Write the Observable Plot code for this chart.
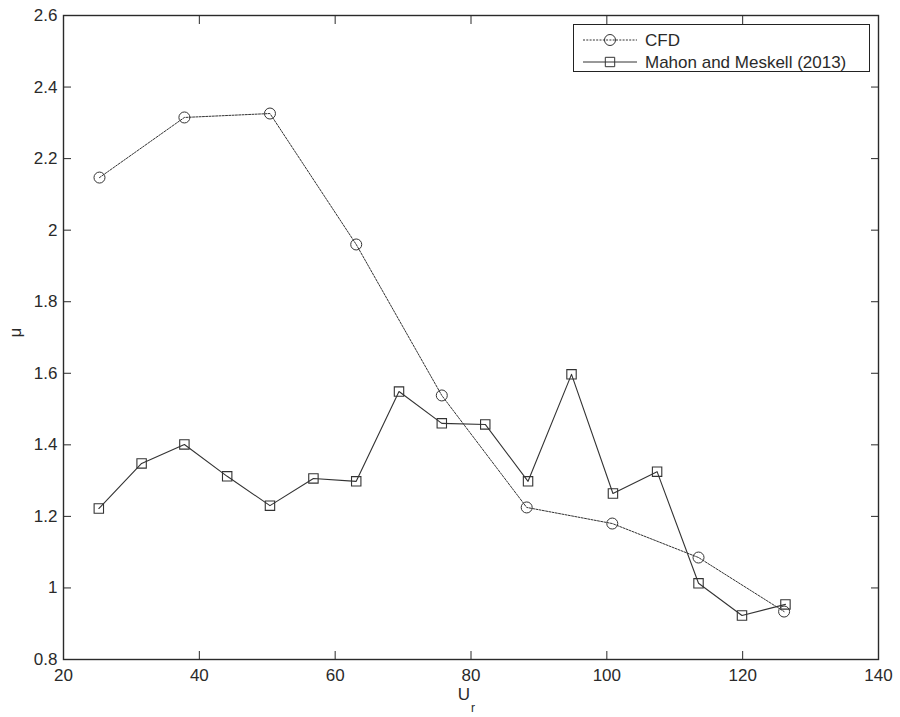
<!DOCTYPE html>
<html>
<head>
<meta charset="utf-8">
<script src="https://cdn.jsdelivr.net/npm/d3@7"></script>
<script src="https://cdn.jsdelivr.net/npm/@observablehq/plot@0.6"></script>
<style>
  body { margin: 0; background: #fff; }
  #wrap { position: relative; width: 900px; height: 717px; font-family: "Liberation Sans", Arial, sans-serif; color: #222; }
  #legend { position: absolute; left: 573px; top: 24px; width: 297px; height: 48px; border: 1px solid #222; background: #fff; box-sizing: border-box; }
  #legend svg { position: absolute; left: 0; top: 0; }
</style>
</head>
<body>
<div id="wrap"></div>
<script>
// ---- data ----
const seriesNames = ["CFD", "Mahon and Meskell (2013)"];
const urCFD = [25.3, 37.8, 50.4, 63.1, 75.7, 88.2, 100.8, 113.5, 126.1];
const muCFD = [2.147, 2.315, 2.326, 1.96, 1.538, 1.225, 1.18, 1.085, 0.934];
const urExp = [25.2, 31.5, 37.8, 44.1, 50.4, 56.8, 63.1, 69.4, 75.7, 82.1, 88.4, 94.8, 100.9, 107.4, 113.5, 119.9, 126.3];
const muExp = [1.222, 1.348, 1.401, 1.312, 1.23, 1.306, 1.298, 1.549, 1.46, 1.457, 1.298, 1.597, 1.264, 1.325, 1.013, 0.923, 0.954];
const xTicks = [20, 40, 60, 80, 100, 120, 140];
const yTicks = [0.8, 1, 1.2, 1.4, 1.6, 1.8, 2, 2.2, 2.4, 2.6];
const xLabel = "U";
const xLabelSub = "r";
const yLabel = "μ";

const cfd = urCFD.map((x, i) => ({x, y: muCFD[i], s: seriesNames[0]}));
const exp = urExp.map((x, i) => ({x, y: muExp[i], s: seriesNames[1]}));

const ink = "#2a2a2a";
const fmt = d => String(+d.toFixed(1));

const chart = Plot.plot({
  width: 900,
  height: 717,
  marginLeft: 63,
  marginRight: 22,
  marginTop: 15,
  marginBottom: 58,
  style: { fontFamily: "'Liberation Sans', Arial, sans-serif", fontSize: "17px", color: ink, background: "#fff" },
  x: { domain: [20, 140], label: null },
  y: { domain: [0.8, 2.6], label: null },
  marks: [
    Plot.axisX(xTicks, { anchor: "bottom", tickSize: -8, tickPadding: 17, tickFormat: fmt, label: null, stroke: ink }),
    Plot.axisX(xTicks, { anchor: "top", tickSize: -8, tickFormat: () => "", label: null, stroke: ink }),
    Plot.axisY(yTicks, { anchor: "left", tickSize: -8, tickPadding: 14, tickFormat: fmt, label: null, stroke: ink }),
    Plot.axisY(yTicks, { anchor: "right", tickSize: -8, tickFormat: () => "", label: null, stroke: ink }),
    Plot.frame({ stroke: ink, strokeWidth: 1.4 }),
    Plot.line(cfd, { x: "x", y: "y", stroke: "#333", strokeWidth: 1, strokeDasharray: "2,1.3" }),
    Plot.dot(cfd, { x: "x", y: "y", r: 5.5, stroke: "#333", strokeWidth: 1, fill: "none" }),
    Plot.line(exp, { x: "x", y: "y", stroke: "#333", strokeWidth: 1.1 }),
    Plot.dot(exp, { x: "x", y: "y", symbol: "square", r: 5.3, stroke: "#333", strokeWidth: 1.1, fill: "none" }),
    Plot.text([xLabel], { text: d => d, frameAnchor: "bottom", dx: -7, dy: 40, fontSize: 17, fill: ink }),
    Plot.text([xLabelSub], { text: d => d, frameAnchor: "bottom", dx: 2, dy: 52, fontSize: 12, fill: ink }),
    Plot.text([yLabel], { text: d => d, frameAnchor: "left", dx: -48, rotate: -90, fontSize: 17, fill: ink })
  ]
});

const wrap = document.getElementById("wrap");
wrap.appendChild(chart);

// ---- legend (overlay inside the plot area, top right) ----
const legend = d3.select(wrap).append("div").attr("id", "legend");
const lsvg = legend.append("svg").attr("width", 297).attr("height", 48);
const rows = [
  { name: seriesNames[0], dash: "2,1.3", symbol: d3.symbolCircle, size: Math.PI * 5.5 * 5.5, cy: 15 },
  { name: seriesNames[1], dash: null, symbol: d3.symbolSquare, size: Math.PI * 5.3 * 5.3, cy: 37 }
];
rows.forEach(r => {
  lsvg.append("line").attr("x1", 9).attr("x2", 63).attr("y1", r.cy).attr("y2", r.cy)
    .attr("stroke", "#333").attr("stroke-width", 1).attr("stroke-dasharray", r.dash);
  lsvg.append("path").attr("d", d3.symbol(r.symbol, r.size)()).attr("transform", `translate(36,${r.cy})`)
    .attr("fill", "none").attr("stroke", "#333").attr("stroke-width", 1);
  lsvg.append("text").attr("x", 71).attr("y", r.cy).attr("dy", "0.35em")
    .attr("font-family", "'Liberation Sans', Arial, sans-serif").attr("font-size", 17).attr("fill", ink)
    .text(r.name);
});
</script>
</body>
</html>
